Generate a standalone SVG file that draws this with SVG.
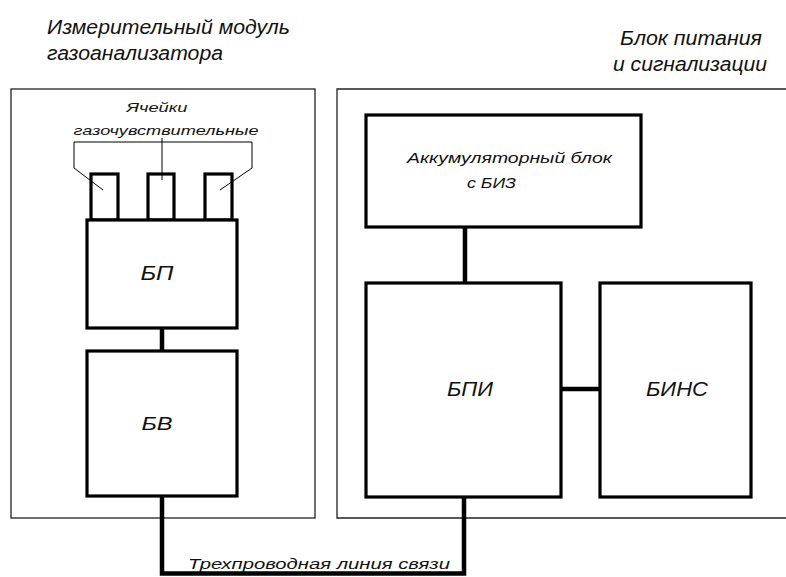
<svg xmlns="http://www.w3.org/2000/svg" width="786" height="577" viewBox="0 0 786 577">
<style>
.outer{fill:none;stroke:#222;stroke-width:1.3}
.box{fill:#fff;stroke:#000;stroke-width:3.2}
.conn{fill:none;stroke:#000;stroke-width:4.5}
.thin{fill:none;stroke:#000;stroke-width:1}
.title{font-family:"Liberation Sans",Arial,sans-serif;font-style:italic;font-size:20.5px;fill:#111}
.lbl{font-family:"Liberation Sans",Arial,sans-serif;font-style:italic;fill:#111}
</style>
<rect width="786" height="577" fill="#fff"/>
<g id="titles">
<text class="title" x="47" y="34" textLength="243" lengthAdjust="spacingAndGlyphs">Измерительный модуль</text>
<text class="title" x="47" y="60" textLength="176" lengthAdjust="spacingAndGlyphs">газоанализатора</text>
<text class="title" x="620" y="45" textLength="142" lengthAdjust="spacingAndGlyphs">Блок питания</text>
<text class="title" x="613" y="71" textLength="154" lengthAdjust="spacingAndGlyphs">и сигнализации</text>
</g>
<g id="module-frame"><rect class="outer" x="11" y="89" width="304" height="429"/></g>
<g id="power-frame"><path class="outer" d="M790,89 H337 V518 H790"/></g>
<g id="connectors">
<line class="conn" x1="162" y1="328" x2="162" y2="351"/>
<line class="conn" x1="465" y1="227" x2="465" y2="283"/>
<line class="conn" x1="561" y1="389" x2="600" y2="389"/>
<path class="conn" d="M162,496 V573.5 H464 V496" stroke-width="5"/>
</g>
<g id="cell1"><rect class="box" x="91" y="174" width="27" height="46"/></g>
<g id="cell2"><rect class="box" x="148" y="174" width="26" height="46"/></g>
<g id="cell3"><rect class="box" x="205" y="174" width="27" height="46"/></g>
<g id="cells-label">
<path class="thin" d="M74,142 H252 M74,142 V168 L103,190 M252,142 V168 L220,190 M162,138 V180"/>
<text class="lbl" x="157" y="112" font-size="12" text-anchor="middle" textLength="61" lengthAdjust="spacingAndGlyphs">Ячейки</text>
<text class="lbl" x="166" y="135" font-size="13" text-anchor="middle" textLength="185" lengthAdjust="spacingAndGlyphs">газочувствительные</text>
</g>
<g id="bp"><rect class="box" x="87" y="220" width="150" height="108"/>
<text class="lbl" x="157" y="280" font-size="20" text-anchor="middle" textLength="33" lengthAdjust="spacingAndGlyphs">БП</text></g>
<g id="bv"><rect class="box" x="87" y="351" width="150" height="145"/>
<text class="lbl" x="157" y="430" font-size="18" text-anchor="middle" textLength="31" lengthAdjust="spacingAndGlyphs">БВ</text></g>
<g id="akb"><rect class="box" x="366" y="115" width="275" height="112"/>
<text class="lbl" x="407" y="163" font-size="14" textLength="205" lengthAdjust="spacingAndGlyphs">Аккумуляторный блок</text>
<text class="lbl" x="467" y="188" font-size="14" textLength="49" lengthAdjust="spacingAndGlyphs">с БИЗ</text></g>
<g id="bpi"><rect class="box" x="366" y="283" width="195" height="214"/>
<text class="lbl" x="470" y="396" font-size="20" text-anchor="middle" textLength="46" lengthAdjust="spacingAndGlyphs">БПИ</text></g>
<g id="bins"><rect class="box" x="600" y="283" width="151" height="214"/>
<text class="lbl" x="677" y="396" font-size="20" text-anchor="middle" textLength="62" lengthAdjust="spacingAndGlyphs">БИНС</text></g>
<g id="line-label">
<text class="lbl" x="188" y="569" font-size="15" textLength="262" lengthAdjust="spacingAndGlyphs">Трехпроводная линия связи</text>
</g>
</svg>
